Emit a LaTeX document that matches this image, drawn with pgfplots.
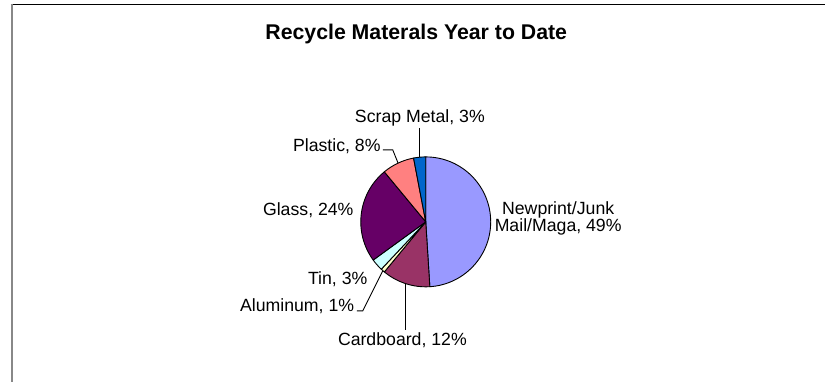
\documentclass[border=0pt]{standalone}
\usepackage{pgfplots}
\pgfplotsset{compat=1.18}
\usepackage{fontspec}
\setmainfont{Liberation Sans}
\definecolor{slice0}{HTML}{9999FF}
\definecolor{slice1}{HTML}{993366}
\definecolor{slice2}{HTML}{FFFFCC}
\definecolor{slice3}{HTML}{CCFFFF}
\definecolor{slice4}{HTML}{660066}
\definecolor{slice5}{HTML}{FF8080}
\definecolor{slice6}{HTML}{0066CC}
\definecolor{framegray}{HTML}{888888}
% shares in percent: Newprint, Cardboard, Aluminum, Tin, Glass, Plastic, Scrap Metal
\def\pievalues{49,12,1,3,24,8,3}
\newcount\pieidx
\pieidx=0
\def\pieacc{0}
\expandafter\xdef\csname pieangle0\endcsname{90}
\foreach \v in \pievalues {%
  \pgfmathsetmacro\pieaccnew{\pieacc+\v}%
  \xdef\pieacc{\pieaccnew}%
  \global\advance\pieidx by 1
  \pgfmathsetmacro\tmpang{90-3.6*\pieacc}%
  \expandafter\xdef\csname pieangle\the\pieidx\endcsname{\tmpang}%
}
\newcommand\lbl{\fontsize{17.7bp}{20bp}\selectfont}
\begin{document}
\begin{tikzpicture}
\begin{axis}[width=825bp, height=382bp, scale only axis,
  xmin=0, xmax=825, ymin=0, ymax=382, y dir=reverse,
  hide axis, clip=false]
\path (axis cs:0,0) rectangle (axis cs:825,382);
% frame
\draw[black, line width=1bp] (axis cs:11,4.5) -- (axis cs:825,4.5);
\draw[framegray, line width=2bp] (axis cs:12,4) -- (axis cs:12,382);
% pie slices
\pgfplotsinvokeforeach{0,...,6}{%
  \fill[slice#1, draw=black, line width=0.9bp, line join=round]
    (axis cs:426,222) -- ++(\csname pieangle#1\endcsname:65bp)
    arc[start angle=\csname pieangle#1\endcsname,
        end angle=\csname pieangle\the\numexpr#1+1\relax\endcsname,
        radius=65bp] -- cycle;
}
% leader lines
\draw[black, line width=0.9bp] (axis cs:420,128) -- (axis cs:420,157.3);
\draw[black, line width=0.9bp] (axis cs:383,150) -- (axis cs:393,150) -- (axis cs:398.3,163.2);
\draw[black, line width=0.9bp] (axis cs:357,311) -- (axis cs:363,311) -- (axis cs:383,271);
\draw[black, line width=0.9bp] (axis cs:405.5,330) -- (axis cs:405.5,284);
% title
\node[anchor=base, inner sep=0pt, font=\fontsize{21.3bp}{24bp}\selectfont\bfseries] at (axis cs:416.5,40) {Recycle Materals Year to Date};
% labels
\node[anchor=base west, inner sep=0pt, font=\lbl] at (axis cs:355,123) {Scrap Metal, 3\%};
\node[anchor=base west, inner sep=0pt, font=\lbl] at (axis cs:293,152) {Plastic, 8\%};
\node[anchor=base west, inner sep=0pt, font=\lbl] at (axis cs:263,216) {Glass, 24\%};
\node[anchor=base west, inner sep=0pt, font=\lbl] at (axis cs:308,285) {Tin, 3\%};
\node[anchor=base west, inner sep=0pt, font=\lbl] at (axis cs:240,312) {Aluminum, 1\%};
\node[anchor=base west, inner sep=0pt, font=\lbl] at (axis cs:338,346) {Cardboard, 12\%};
\node[anchor=base, inner sep=0pt, font=\lbl] at (axis cs:558.5,215) {Newprint/Junk};
\node[anchor=base, inner sep=0pt, font=\lbl] at (axis cs:558.5,232) {Mail/Maga, 49\%};
\end{axis}
\end{tikzpicture}
\end{document}
